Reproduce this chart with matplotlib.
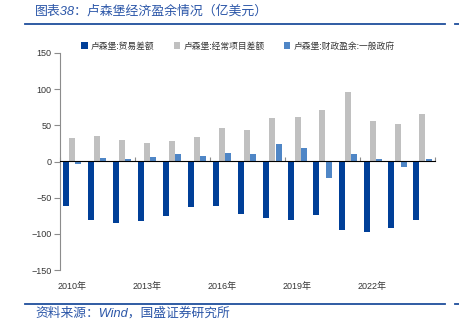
import numpy as np
import matplotlib.pyplot as plt
from matplotlib.patches import Patch
from matplotlib.lines import Line2D

plt.rcParams['font.family'] = ['Liberation Sans', 'Noto Sans CJK SC', 'DejaVu Sans']

# 卢森堡经济盈余（亿美元），2010-2024
years = [str(y) for y in range(2010, 2025)]
trade_balance = [-62, -81, -85, -82, -76, -63, -61, -72, -78, -81, -74, -95, -97, -92, -81]
current_account = [33, 35, 30, 26, 29, 34, 47, 43, 60, 61, 71, 96, 56, 52, 66]
fiscal_surplus = [-3, 5, 3, 6, 10, 8, 12, 10, 24, 19, -23, 10, 3, -7, 4]

series_names = ['卢森堡:贸易差额', '卢森堡:经常项目差额', '卢森堡:财政盈余:一般政府']
series_colors = ['#003f98', '#c0c0c0', '#4f86c6']

title_color = '#2b56a8'
rule_color = '#1f4e9c'
axis_color = '#8c8c8c'
text_color = '#353535'

fig = plt.figure(figsize=(4.6, 3.28), dpi=100)
ax = fig.add_axes([60 / 460, 1 - 270 / 328, 375 / 460, 217 / 328])

x = np.arange(len(years))
w = 0.24
for offset, vals, color in zip([-w, 0, w], [trade_balance, current_account, fiscal_surplus], series_colors):
    ax.bar(x + offset, vals, width=w, color=color, linewidth=0, zorder=2)

ax.set_xlim(-0.5, len(years) - 0.5)
ax.set_ylim(-150, 150)
ax.set_yticks(np.arange(-150, 151, 50))
ax.tick_params(axis='y', length=4, width=0.8, color=axis_color, labelsize=6.5,
               labelcolor=text_color, pad=2)

# year labels every three years along the bottom, no tick marks
ax.set_xticks(x[::3])
ax.set_xticklabels([f'{y}年' for y in years[::3]])
ax.tick_params(axis='x', length=0, labelsize=6.5, labelcolor=text_color, pad=9)

for side in ['top', 'right', 'bottom']:
    ax.spines[side].set_visible(False)
ax.spines['left'].set_color(axis_color)
ax.spines['left'].set_linewidth(0.8)

# zero line with small boundary ticks
zero_axis = ax.secondary_xaxis(0.5)
zero_axis.set_xticks(np.arange(-0.5, len(years), 3))
zero_axis.set_xticklabels([])
zero_axis.tick_params(length=3, width=0.8, color=axis_color, direction='out')
zero_axis.spines['bottom'].set_color('#666666')
zero_axis.spines['bottom'].set_linewidth(1.0)
zero_axis.set_zorder(3)

handles = [Patch(facecolor=c, edgecolor='none') for c in series_colors]
fig.legend(handles, series_names, loc='center', bbox_to_anchor=(238 / 460, 1 - 46 / 328),
           ncol=3, frameon=False, fontsize=6.3, handlelength=0.7, handleheight=0.7,
           handletextpad=0.4, columnspacing=2.2, labelcolor=text_color)

fig.text(35 / 460, 1 - 11 / 328, '图表38：卢森堡经济盈余情况（亿美元）', fontsize=9.3,
         color=title_color, style='italic', va='center', ha='left')
fig.text(35 / 460, 1 - 313 / 328, '资料来源：Wind，国盛证券研究所', fontsize=9.2,
         color=title_color, style='italic', va='center', ha='left')

for y in [1 - 23.5 / 328, 1 - 304 / 328]:
    fig.add_artist(Line2D([25 / 460, 445 / 460], [y, y], color=rule_color, linewidth=1.3))
    fig.add_artist(Line2D([455 / 460, 1.0], [y, y], color=rule_color, linewidth=1.3))

fig.savefig('out.png', dpi=100)
